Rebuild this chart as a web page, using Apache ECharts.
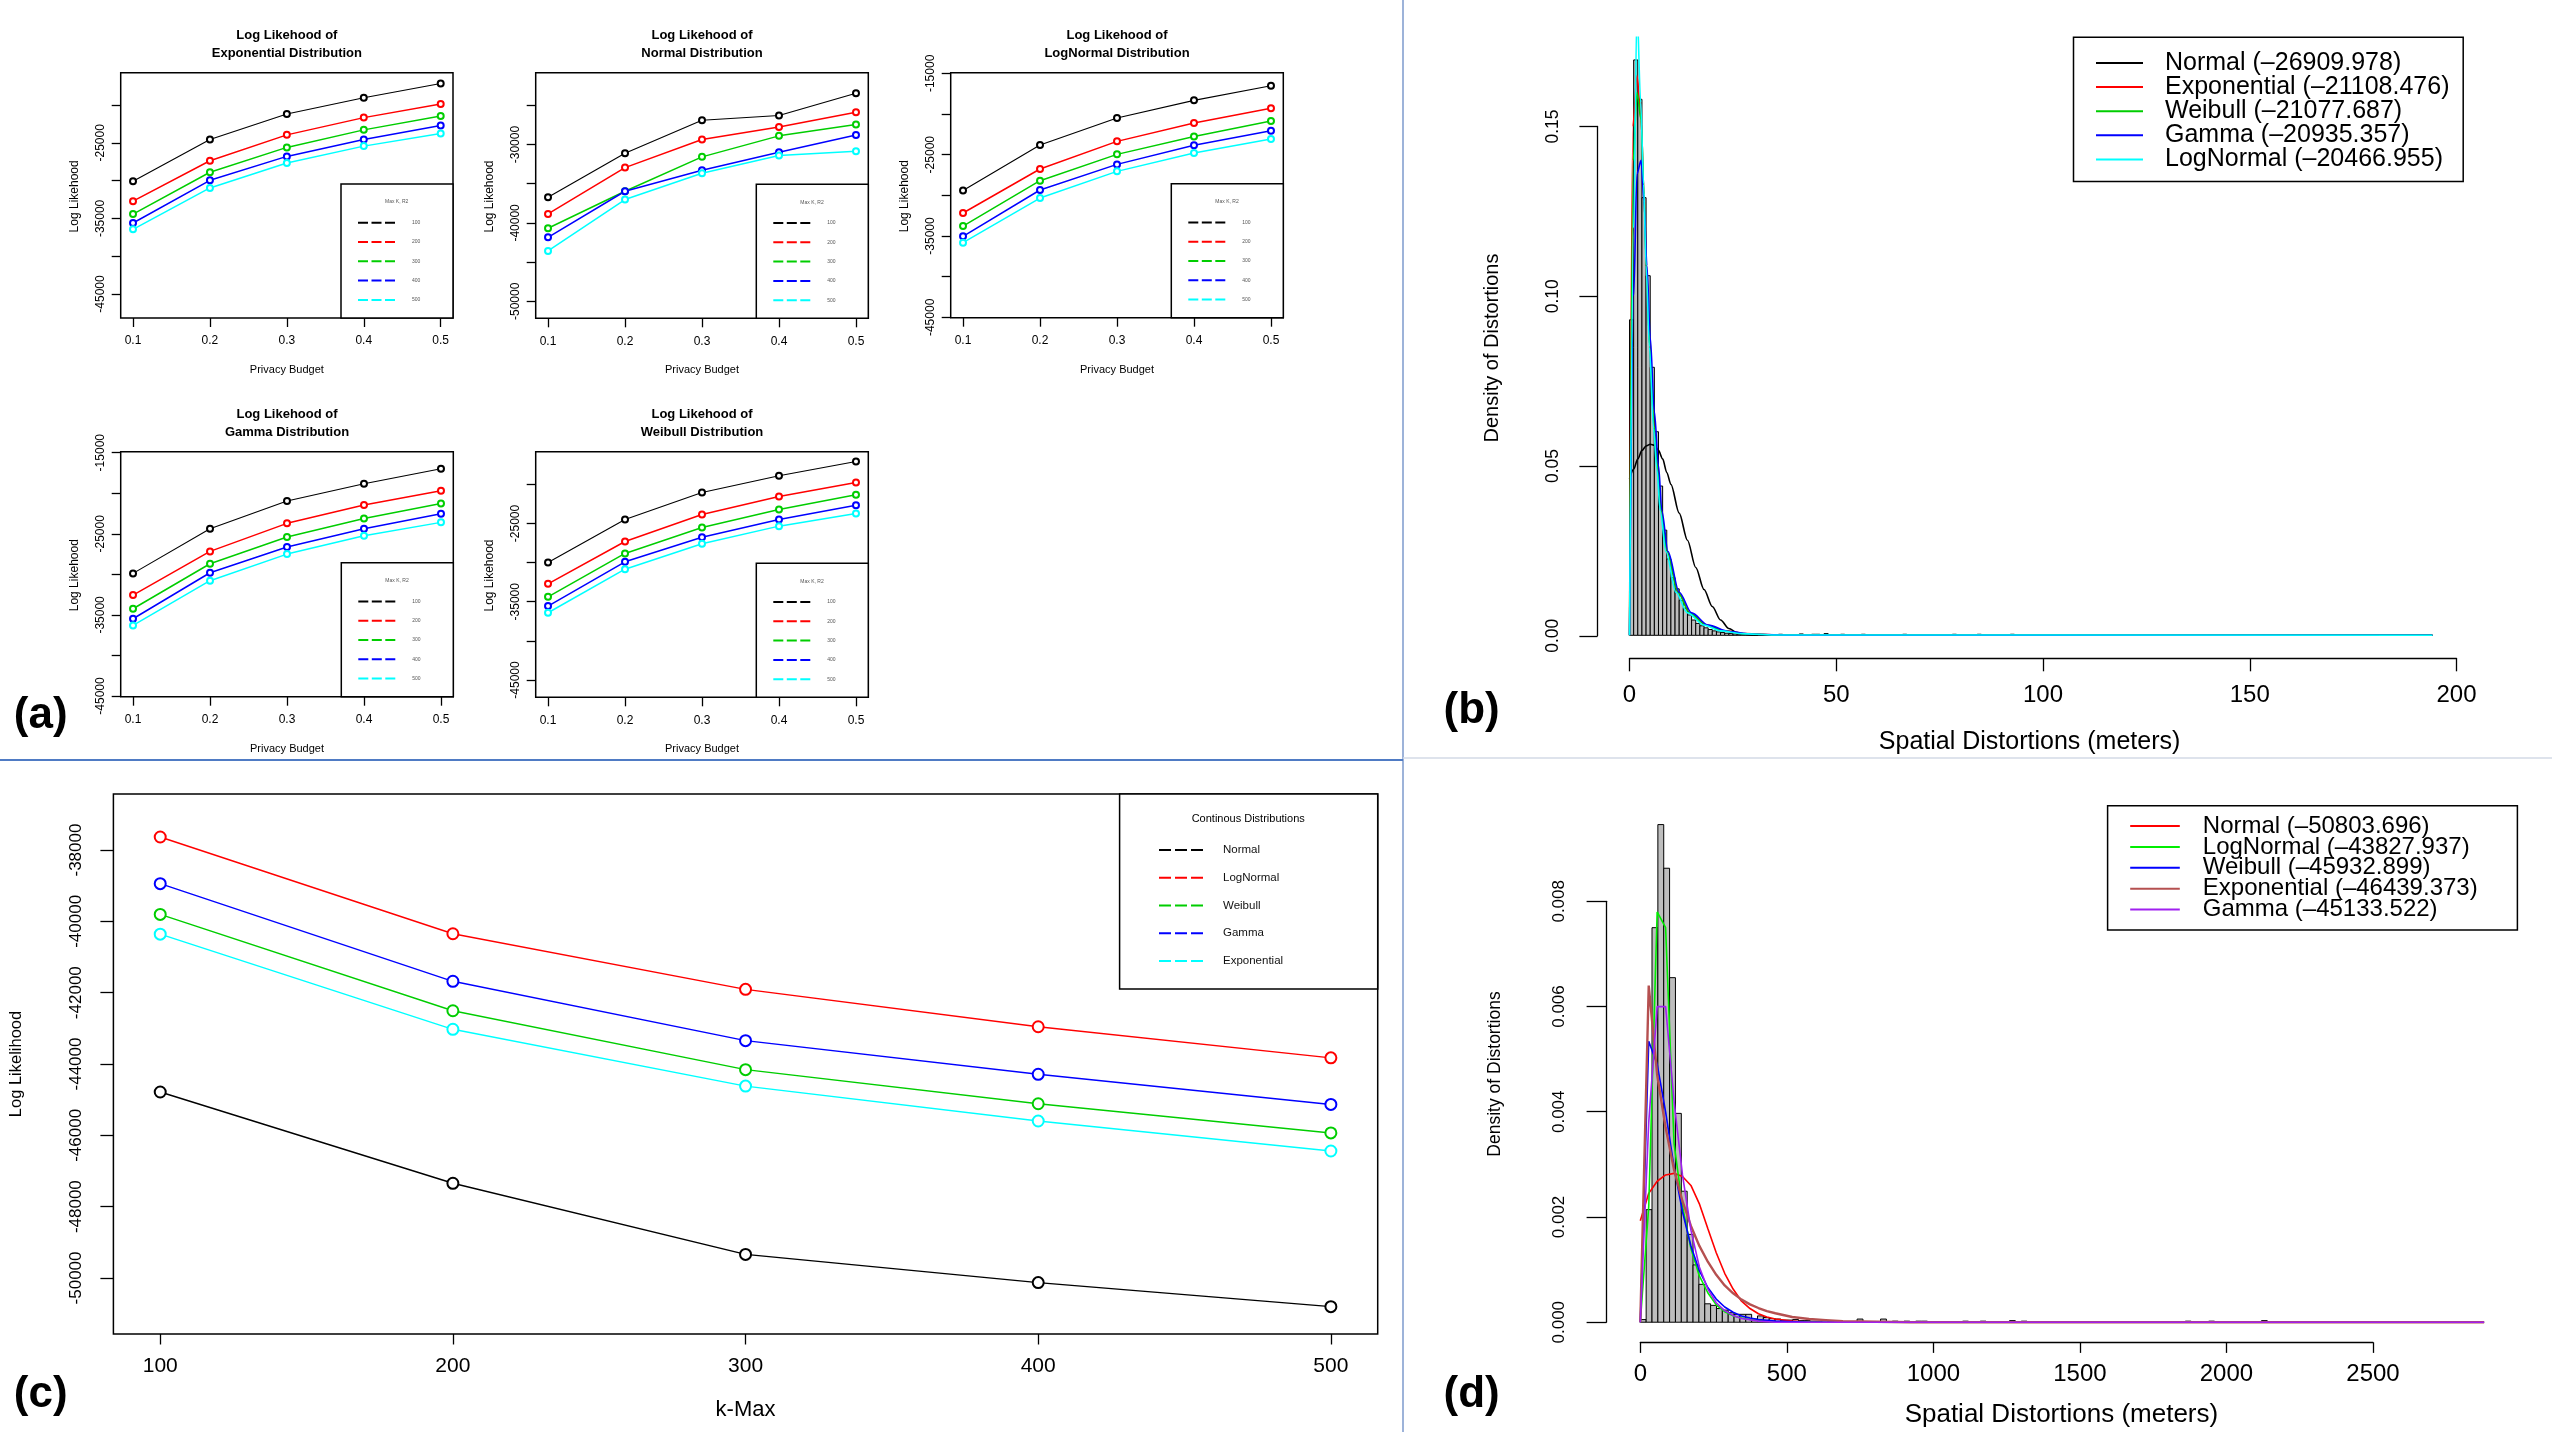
<!DOCTYPE html>
<html>
<head>
<meta charset="utf-8">
<script src="https://cdn.jsdelivr.net/npm/echarts@6/dist/echarts.min.js"></script>
<style>
  html, body { margin: 0; padding: 0; background: #fff; }
  #chart { width: 2552px; height: 1432px; }
</style>
</head>
<body>
<div id="chart"></div>
<script>
// ---------- data ----------
const budgets = [0.1, 0.2, 0.3, 0.4, 0.5];
const kMax = ['100', '200', '300', '400', '500'];

// (a) log likelihood per privacy budget, one row per max K
const llExponential = [
  [-30090, -24560, -21180, -19040, -17150],
  [-32720, -27370, -23950, -21670, -19870],
  [-34430, -28900, -25610, -23290, -21450],
  [-35610, -29960, -26800, -24560, -22720],
  [-36450, -30970, -27680, -25440, -23770],
];
const llNormal = [
  [-36720, -31110, -26890, -26300, -23450],
  [-38850, -32940, -29360, -27750, -25870],
  [-40680, -35960, -31570, -28890, -27450],
  [-41830, -35960, -33280, -30980, -28770],
  [-43570, -37020, -33660, -31400, -30850],
];
const llLogNormal = [
  [-29390, -23810, -20490, -18320, -16520],
  [-32170, -26760, -23360, -21110, -19300],
  [-33770, -28200, -24960, -22750, -20860],
  [-35040, -29340, -26190, -23850, -22050],
  [-35820, -30330, -27050, -24800, -23070],
];
const llGamma = [
  [-29880, -24370, -20960, -18820, -16970],
  [-32550, -27170, -23710, -21450, -19690],
  [-34240, -28690, -25400, -23100, -21250],
  [-35470, -29800, -26630, -24370, -22520],
  [-36290, -30780, -27500, -25230, -23590],
];
const llWeibull = [
  [-29980, -24490, -21040, -18910, -17080],
  [-32710, -27300, -23850, -21550, -19760],
  [-34370, -28830, -25510, -23210, -21340],
  [-35560, -29900, -26750, -24490, -22660],
  [-36410, -30840, -27600, -25340, -23720],
];
const ticksA1 = [-45000, -40000, -35000, -30000, -25000, -20000];
const labelsA1 = [-45000, -35000, -25000];
const ticksA2 = [-50000, -45000, -40000, -35000, -30000, -25000];
const labelsA2 = [-50000, -40000, -30000];
const ticksA3 = [-45000, -40000, -35000, -30000, -25000, -20000, -15000];
const labelsA3 = [-45000, -35000, -25000, -15000];

// (c) log likelihood per k-Max
const kValues = [100, 200, 300, 400, 500];
const cNames = ['Normal', 'LogNormal', 'Weibull', 'Gamma', 'Exponential'];
const cNormal = [-44785, -47345, -49339, -50130, -50804];
const cLogNormal = [-37634, -40348, -41906, -42956, -43828];
const cWeibull = [-39805, -42507, -44159, -45115, -45933];
const cGamma = [-38944, -41681, -43345, -44289, -45134];
const cExponential = [-40360, -43027, -44620, -45599, -46439];
const ticksCx = [100, 200, 300, 400, 500];
const ticksCy = [-50000, -48000, -46000, -44000, -42000, -40000, -38000];

// (b) histogram (bin start, density), bin width 1 m
const histB = [[0,0.093],[1,0.1696],[2,0.158],[3,0.129],[4,0.106],[5,0.079],[6,0.060],[7,0.044],
  [8,0.031],[9,0.0225],[10,0.017],[11,0.0137],[12,0.0103],[13,0.0080],[14,0.0060],[15,0.0045],
  [16,0.0035],[17,0.0028],[18,0.0022],[19,0.0017],[20,0.0013],[21,0.0010],[22,0.0008],[23,0.0006],
  [24,0.0005],[25,0.0004],[26,0.0003],[27,0.0003],[28,0.0002],[29,0.0002],[30,0.0001],[32,0.0001],
  [36,0.0003],[41,0.0004],[44,0.0003],[45,0.0003],[47,0.0005],[51,0.0003],[56,0.0003],[66,0.0003],
  [78,0.0003],[84,0.0003],[92,0.0003]];
const binB = 1;
const bNames = ['Normal (–26909.978)', 'Exponential (–21108.476)', 'Weibull (–21077.687)',
  'Gamma (–20935.357)', 'LogNormal (–20466.955)'];
const bNormal = [[0,0.046],[1,0.049],[2,0.052],[3,0.0545],[4,0.0558],[5,0.0563],[6,0.056],[7,0.0545],
  [8,0.052],[9,0.048],[10,0.0445],[12,0.036],[14,0.028],[16,0.020],[18,0.0135],[20,0.0085],
  [22,0.0045],[24,0.002],[26,0.0008],[28,0.0003],[30,0.0001],[35,0],[194,0]];
const bExponential = [[0,0],[0.8,0.15],[1.8,0.165],[2.8,0.152],[3.5,0.13],[4.1,0.108],[4.9,0.085],
  [5.9,0.062],[6.8,0.049],[7.6,0.0368],[9.1,0.0247],[11.8,0.0127],[14.6,0.0066],[18.7,0.003],
  [23,0.0013],[28,0.0005],[36,0.0001],[194,0]];
const bWeibull = [[0,0],[0.9,0.14],[1.8,0.16],[2.8,0.152],[3.5,0.13],[4.1,0.108],[4.9,0.085],
  [5.9,0.062],[6.8,0.049],[7.6,0.0368],[9.1,0.0247],[11.7,0.0127],[14.5,0.0066],[18.5,0.003],
  [23,0.0012],[28,0.0004],[36,0.0001],[194,0]];
const bGamma = [[0,0],[1,0.1],[1.8,0.136],[2.8,0.14],[3.5,0.128],[4.2,0.109],[5,0.088],[6,0.066],
  [7,0.05],[7.8,0.0368],[9.3,0.0247],[12,0.0127],[15,0.0066],[19,0.003],[24,0.0011],[30,0.0003],
  [40,0],[194,0]];
const bLogNormal = [[0,0],[1,0.12],[1.8,0.185],[2.7,0.157],[3.4,0.133],[4,0.109],[4.8,0.085],
  [5.8,0.061],[6.6,0.049],[7.4,0.0368],[8.8,0.0247],[11.2,0.0127],[14,0.0066],[18,0.003],
  [22,0.0013],[27,0.0005],[35,0.0001],[194,0]];
const ticksBx = [0, 50, 100, 150, 200];
const ticksBy = [0, 0.05, 0.10, 0.15];

// (d) histogram (bin start, density), bin width 20 m
const histD = [[0,0.00005],[20,0.00214],[40,0.0075],[60,0.00946],[80,0.00863],[100,0.00655],
  [120,0.00397],[140,0.00249],[160,0.00167],[180,0.00109],[200,0.00072],[220,0.00035],
  [240,0.00032],[260,0.00026],[280,0.00023],[300,0.00018],[320,0.00015],[340,0.00015],
  [360,0.00015],[380,0.00006],[400,0.00012],[420,0.00009],[440,0.00007],[460,0.00006],
  [480,0.00004],[500,0.00004],[520,0.00005],[540,0.00003],[560,0.00003],[580,0.00002],
  [600,0.00002],[640,0.00002],[740,0.00006],[820,0.00006],[860,0.00002],[900,0.00002],
  [940,0.00002],[960,0.00002],[1100,0.00002],[1160,0.00002],[1260,0.00003],[1300,0.00002],
  [1860,0.00002],[1940,0.00002],[2120,0.00003]];
const binD = 20;
const dNames = ['Normal (–50803.696)', 'LogNormal (–43827.937)', 'Weibull (–45932.899)',
  'Exponential (–46439.373)', 'Gamma (–45133.522)'];
const dNormal = [[0,0.00193],[28.8,0.00245],[57.6,0.00268],[86.4,0.0028],[115.2,0.00283],
  [144,0.00277],[172.8,0.0026],[201.6,0.00225],[230.4,0.00178],[259.2,0.00132],[288,0.00093],
  [316.8,0.00063],[345.6,0.0004],[374.4,0.00026],[403.2,0.00016],[432,0.0001],[460.8,0.00006],
  [518.4,0.00002],[576,0],[2880,0]];
const dLogNormal = [[0,0],[28.8,0.0022],[57.6,0.0078],[86.4,0.0075],[115.2,0.0034],[144,0.0022],
  [172.8,0.0014],[201.6,0.00088],[230.4,0.00056],[259.2,0.00033],[288,0.0002],[316.8,0.00012],
  [345.6,0.00008],[374.4,0.00005],[403.2,0.00003],[460.8,0.00001],[576,0],[2880,0]];
const dWeibull = [[0,0],[28.8,0.00534],[57.6,0.0049],[86.4,0.0040],[115.2,0.00295],[144,0.0021],
  [172.8,0.00145],[201.6,0.00098],[230.4,0.00066],[259.2,0.00044],[288,0.00029],[316.8,0.00019],
  [345.6,0.00012],[374.4,0.00008],[403.2,0.00005],[460.8,0.00002],[576,0],[2880,0]];
const dExponential = [[0,0],[28.8,0.0064],[57.6,0.0047],[86.4,0.0037],[115.2,0.0029],[144,0.0023],
  [172.8,0.00183],[201.6,0.00145],[230.4,0.00115],[259.2,0.0009],[288,0.0007],[316.8,0.00055],
  [345.6,0.00043],[374.4,0.00034],[403.2,0.00027],[432,0.00021],[460.8,0.00017],[518.4,0.0001],
  [576,0.00006],[633.6,0.00004],[691.2,0.00002],[806.4,0.00001],[921.6,0],[2880,0]];
const dGamma = [[0,0],[28.8,0.0038],[57.6,0.0060],[86.4,0.0060],[115.2,0.0042],[144,0.0028],
  [172.8,0.00175],[201.6,0.00105],[230.4,0.00063],[259.2,0.00037],[288,0.00022],[316.8,0.00013],
  [345.6,0.00007],[403.2,0.00002],[460.8,0],[2880,0]];
const ticksDx = [0, 500, 1000, 1500, 2000, 2500];
const ticksDy = [0, 0.002, 0.004, 0.006, 0.008];

// ---------- layout ----------
const FONT = 'Liberation Sans, Arial, sans-serif';
const palette = ['#000000', '#FF0000', '#00CD00', '#0000FF', '#00FFFF'];

const smallCharts = [
  { title: 'Exponential', rows: llExponential, rect: [120.7, 72.7, 332.3, 245.3], y: [-48175, -15728], ticks: ticksA1, labels: labelsA1 },
  { title: 'Normal', rows: llNormal, rect: [535.7, 72.7, 332.6, 245.6], y: [-52170, -20830], ticks: ticksA2, labels: labelsA2 },
  { title: 'LogNormal', rows: llLogNormal, rect: [950.7, 72.7, 332.6, 245], y: [-45041, -14918], ticks: ticksA3, labels: labelsA3 },
  { title: 'Gamma', rows: llGamma, rect: [120.7, 451.7, 332.6, 245], y: [-45082, -14877], ticks: ticksA3, labels: labelsA3 },
  { title: 'Weibull', rows: llWeibull, rect: [535.7, 451.7, 332.6, 245.6], y: [-47215, -15826], ticks: ticksA1, labels: labelsA1 },
];

const grid = [], xAxis = [], yAxis = [], series = [], legend = [], graphic = [];

function txt(x, y, text, size, opts) {
  opts = opts || {};
  graphic.push({
    type: 'text', x: x, y: y, rotation: opts.rot || 0, silent: true, z: 10,
    style: {
      text: text, fontSize: size, fontFamily: opts.family || FONT, fontWeight: opts.bold ? 'bold' : 'normal',
      fill: opts.color || '#000', align: 'center', verticalAlign: 'middle', lineHeight: opts.lh
    }
  });
}
function box(x, y, w, h, lw) {
  graphic.push({ type: 'rect', silent: true, z: 9, shape: { x: x, y: y, width: w, height: h },
    style: { fill: '#fff', stroke: '#000', lineWidth: lw || 1.5 } });
}
function line(x1, y1, x2, y2, color, w) {
  graphic.push({ type: 'line', silent: true, z: 1, shape: { x1: x1, y1: y1, x2: x2, y2: y2 },
    style: { stroke: color, lineWidth: w } });
}
function valAxis(gi, min, max, o) {
  return {
    type: 'value', gridIndex: gi, min: min, max: max, show: o.show !== false,
    position: o.position,
    axisLine: { show: !!o.line, lineStyle: { color: '#000', width: 1.3 } },
    splitLine: { show: false },
    axisTick: { show: true, length: o.tick, customValues: o.ticks, lineStyle: { color: '#000', width: 1.3 } },
    axisLabel: { show: true, customValues: o.labels || o.ticks, margin: o.margin, rotate: o.rotate || 0,
      fontSize: o.size, fontFamily: FONT, color: '#000', formatter: o.fmt || (v => String(v)) }
  };
}
function hidden(gi, min, max) { return { type: 'value', gridIndex: gi, show: false, min: min, max: max, splitLine: { show: false } }; }
function histRender(width) {
  return function (params, api) {
    const x0 = api.value(0), v = api.value(1);
    const p0 = api.coord([x0, v]), p1 = api.coord([x0 + width, 0]);
    return { type: 'rect', shape: { x: p0[0], y: p0[1], width: p1[0] - p0[0], height: p1[1] - p0[1] },
      style: { fill: '#BEBEBE', stroke: '#000', lineWidth: 1 } };
  };
}
const dashSmall = 'path://M0,0h10v2h-10z M13.5,0h10v2h-10z M27,0h10v2h-10z';
const dashC = 'path://M0,0h12v2h-12z M16,0h12v2h-12z M32,0h12v2h-12z';

// ---- panel (a) ----
smallCharts.forEach((c, i) => {
  const [l, t, w, h] = c.rect;
  grid.push({ left: l, top: t, width: w, height: h, show: true, borderColor: '#000', borderWidth: 1.5,
    backgroundColor: 'transparent', outerBoundsMode: 'none' });
  xAxis.push(valAxis(i, 0.084, 0.516, { ticks: budgets, tick: 9, margin: 17, size: 12 }));
  yAxis.push(valAxis(i, c.y[0], c.y[1], { ticks: c.ticks, labels: c.labels, tick: 9, margin: 14, size: 12, rotate: 90 }));
  c.rows.forEach((row, k) => series.push({
    type: 'line', name: kMax[k], xAxisIndex: i, yAxisIndex: i,
    data: budgets.map((b, j) => [b, row[j]]),
    symbol: 'emptyCircle', symbolSize: 6,
    lineStyle: { color: palette[k], width: k === 0 ? 1.1 : 1.5 },
    itemStyle: { color: palette[k], borderWidth: 1.1 },
    animation: false, silent: true
  }));
  txt(l + w / 2, t - 37.7, 'Log Likehood of', 13, { bold: true });
  txt(l + w / 2, t - 19.7, c.title + ' Distribution', 13, { bold: true });
  txt(l + w / 2, t + h + 52, 'Privacy Budget', 11);
  txt(l - 46.5, t + h / 2 + 1, 'Log Likehood', 12, { rot: Math.PI / 2 });
  const bx = l + w - 112, by = t + h - 134;
  box(bx, by, 112, 134, 1.5);
  txt(bx + 55.7, by + 18, 'Max K, R2', 5, { color: '#555' });
  legend.push({
    orient: 'vertical', left: bx + 17, top: by + 38.7 - 5, padding: 0, itemWidth: 37, itemHeight: 2,
    itemGap: 9.3, selectedMode: false, z: 12,
    itemStyle: { borderWidth: 0 },
    data: kMax.map(n => ({ name: n, icon: dashSmall })),
    textStyle: { fontSize: 5, lineHeight: 10, color: '#555', fontFamily: FONT, padding: [0, 0, 0, 12] }
  });
});

// ---- panel (c) ----
const gc = grid.length;
grid.push({ left: 113.4, top: 794, width: 1264.3, height: 540, show: true, borderColor: '#000', borderWidth: 1.5,
  backgroundColor: 'transparent', outerBoundsMode: 'none' });
xAxis.push(valAxis(gc, 84, 516, { ticks: ticksCx, tick: 10.5, margin: 22, size: 21 }));
yAxis.push(valAxis(gc, -51571, -36429, { ticks: ticksCy, tick: 13, margin: 29, size: 17, rotate: 90 }));
[cNormal, cLogNormal, cWeibull, cGamma, cExponential].forEach((vals, k) => series.push({
  type: 'line', name: cNames[k], xAxisIndex: gc, yAxisIndex: gc,
  data: kValues.map((x, j) => [x, vals[j]]),
  symbol: 'emptyCircle', symbolSize: 11,
  lineStyle: { color: palette[k], width: 1.4 },
  itemStyle: { color: palette[k], borderWidth: 1.4 },
  animation: false, silent: true
}));
txt(16, 1064, 'Log Likelihood', 16.5, { rot: Math.PI / 2 });
txt(745.5, 1409.7, 'k-Max', 22);
box(1119.6, 794, 258.1, 194.9, 1.5);
txt(1248.2, 819.2, 'Continous Distributions', 11);
legend.push({
  orient: 'vertical', left: 1159, top: 844, padding: 0, itemWidth: 44, itemHeight: 2,
  itemGap: 15.75, selectedMode: false, z: 12, itemStyle: { borderWidth: 0 },
  data: cNames.map(n => ({ name: n, icon: dashC })),
  textStyle: { fontSize: 11.5, lineHeight: 12, color: '#111', fontFamily: FONT, padding: [0, 0, 0, 15] }
});

// ---- panel (b) ----
const gb = grid.length;
grid.push({ left: 1597.25, top: 37.2, width: 866.6, height: 621.1, outerBoundsMode: 'none' });
xAxis.push(hidden(gb, -7.8, 201.6));
yAxis.push(hidden(gb, -0.00678, 0.1763));
grid.push({ left: 1597.4, top: 126.5, width: 20, height: 509.3, outerBoundsMode: 'none' });
xAxis.push(hidden(gb + 1, 0, 1));
yAxis.push(valAxis(gb + 1, 0, 0.15, { line: true, ticks: ticksBy, tick: 18, margin: 35, size: 17.5, rotate: 90,
  fmt: v => v.toFixed(2) }));
grid.push({ left: 1629.5, top: 600, width: 827, height: 58.3, outerBoundsMode: 'none' });
xAxis.push(valAxis(gb + 2, 0, 200, { line: true, ticks: ticksBx, tick: 13, margin: 25, size: 24 }));
yAxis.push(hidden(gb + 2, 0, 1));
series.push({ type: 'custom', xAxisIndex: gb, yAxisIndex: gb, data: histB, renderItem: histRender(binB),
  animation: false, silent: true, z: 2 });
const bColors = ['#000000', '#FF0000', '#00CD00', '#0000FF', '#00FFFF'];
[bNormal, bExponential, bWeibull, bGamma, bLogNormal].forEach((pts, k) => series.push({
  type: 'line', name: bNames[k], xAxisIndex: gb, yAxisIndex: gb, data: pts,
  symbol: 'none', smooth: 0.3, smoothMonotone: 'x', clip: true,
  lineStyle: { color: bColors[k], width: 1.6 }, itemStyle: { color: bColors[k] },
  animation: false, silent: true, z: 3
}));
txt(1492, 348, 'Density of Distortions', 20, { rot: Math.PI / 2 });
txt(2029.6, 742.2, 'Spatial Distortions (meters)', 25);
box(2073.5, 37.2, 389.7, 144.4, 1.5);
legend.push({
  orient: 'vertical', left: 2096, top: 50.5, padding: 0, itemWidth: 47, itemHeight: 2,
  itemGap: -0.9, selectedMode: false, z: 12, itemStyle: { borderWidth: 0 },
  data: bNames.map(n => ({ name: n, icon: 'rect' })),
  textStyle: { fontSize: 25, lineHeight: 24.1, color: '#000', fontFamily: FONT, padding: [0, 0, 0, 17] }
});

// ---- panel (d) ----
const gd = grid.length;
grid.push({ left: 1606.6, top: 804.8, width: 911.2, height: 537.3, outerBoundsMode: 'none' });
xAxis.push(hidden(gd, -115, 2995));
yAxis.push(hidden(gd, -0.000378, 0.009836));
grid.push({ left: 1606.4, top: 901.3, width: 20, height: 420.9, outerBoundsMode: 'none' });
xAxis.push(hidden(gd + 1, 0, 1));
yAxis.push(valAxis(gd + 1, 0, 0.008, { line: true, ticks: ticksDy, tick: 19.8, margin: 39, size: 17, rotate: 90,
  fmt: v => v.toFixed(3) }));
grid.push({ left: 1640.3, top: 1300, width: 732.7, height: 42.4, outerBoundsMode: 'none' });
xAxis.push(valAxis(gd + 2, 0, 2500, { line: true, ticks: ticksDx, tick: 10.5, margin: 20, size: 24 }));
yAxis.push(hidden(gd + 2, 0, 1));
series.push({ type: 'custom', xAxisIndex: gd, yAxisIndex: gd, data: histD, renderItem: histRender(binD),
  animation: false, silent: true, z: 2 });
const dColors = ['#FF0000', '#00EE00', '#0000FF', '#B55050', '#A020F0'];
[dNormal, dLogNormal, dWeibull, dExponential, dGamma].forEach((pts, k) => series.push({
  type: 'line', name: dNames[k], xAxisIndex: gd, yAxisIndex: gd, data: pts,
  symbol: 'none', clip: true,
  lineStyle: { color: dColors[k], width: k === 3 ? 2.4 : 1.6 }, itemStyle: { color: dColors[k] },
  animation: false, silent: true, z: 3
}));
txt(1495.2, 1074, 'Density of Distortions', 17.5, { rot: Math.PI / 2 });
txt(2061.4, 1415.2, 'Spatial Distortions (meters)', 26);
box(2107.6, 805.8, 409.8, 124.2, 1.5);
legend.push({
  orient: 'vertical', left: 2130.2, top: 814, padding: 0, itemWidth: 49.6, itemHeight: 2,
  itemGap: -3.1, selectedMode: false, z: 12, itemStyle: { borderWidth: 0 },
  data: dNames.map(n => ({ name: n, icon: 'rect' })),
  textStyle: { fontSize: 24, lineHeight: 20.9, color: '#000', fontFamily: FONT, padding: [0, 0, 0, 18] }
});

// ---- panel dividers and labels ----
line(1403, 0, 1403, 1432, '#9DB3D9', 2);
line(0, 760, 1403, 760, '#4F7BC4', 2);
line(1403, 758, 2552, 758, '#D3DAE6', 1.5);
const labelFont = 'Liberation Sans Narrow, Liberation Sans, Arial, sans-serif';
txt(40.7, 716, '(a)', 44, { bold: true, family: labelFont });
txt(1471.6, 711, '(b)', 44, { bold: true, family: labelFont });
txt(40.7, 1395, '(c)', 44, { bold: true, family: labelFont });
txt(1471.6, 1395, '(d)', 44, { bold: true, family: labelFont });

const chart = echarts.init(document.getElementById('chart'), null, { renderer: 'canvas' });
chart.setOption({
  animation: false,
  backgroundColor: '#fff',
  textStyle: { fontFamily: FONT },
  grid: grid, xAxis: xAxis, yAxis: yAxis, series: series, legend: legend, graphic: graphic
});
</script>
</body>
</html>
